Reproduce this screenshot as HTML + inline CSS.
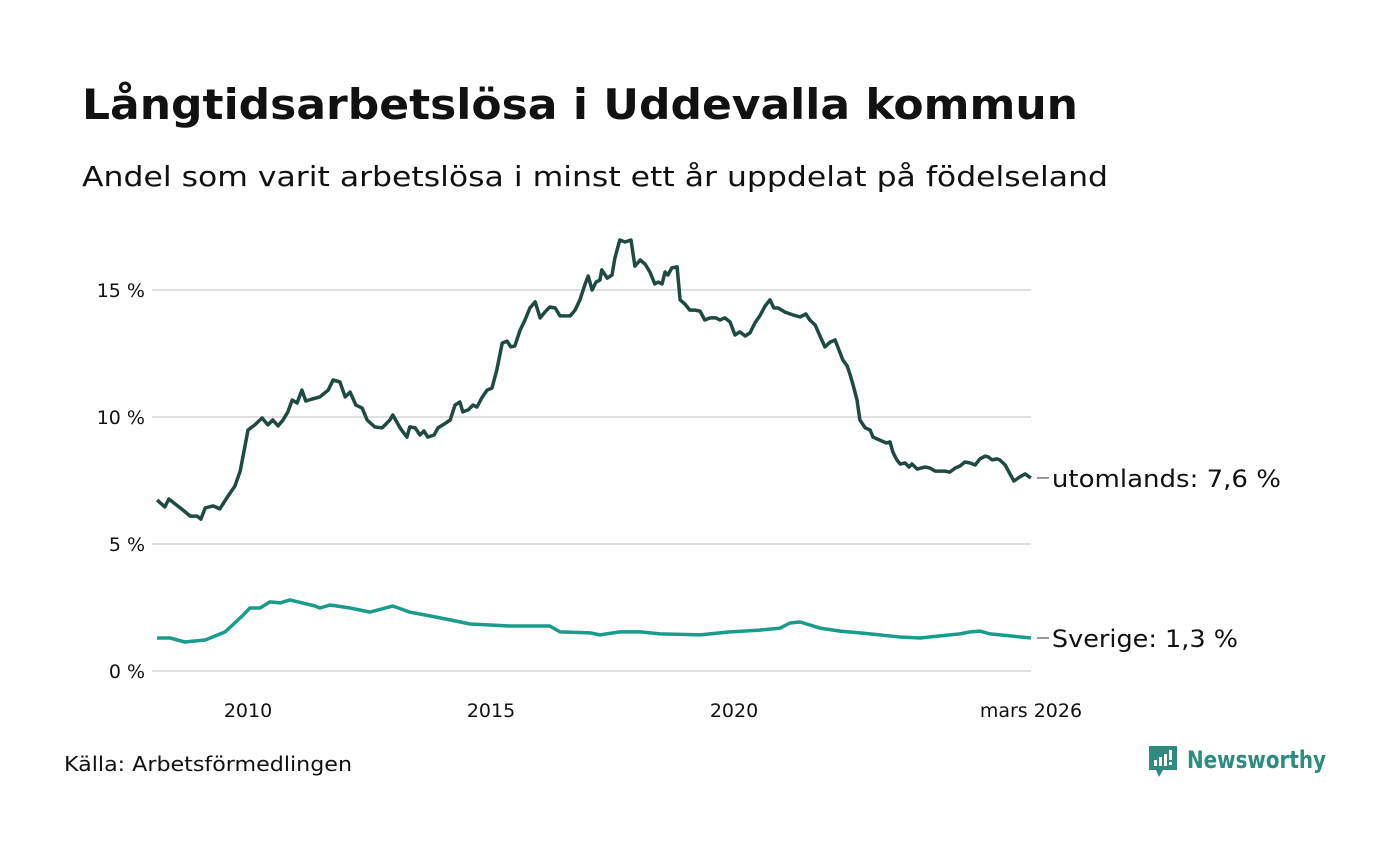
<!DOCTYPE html>
<html><head><meta charset="utf-8"><style>
body{margin:0;background:#fff;width:1400px;height:840px;overflow:hidden;font-family:"DejaVu Sans",sans-serif;}
svg text{font-family:"DejaVu Sans","Liberation Sans",sans-serif;}
</style></head><body>
<svg width="1400" height="840">
<text x="82" y="119" font-size="42" font-weight="bold" fill="#111" textLength="996" lengthAdjust="spacingAndGlyphs">Långtidsarbetslösa i Uddevalla kommun</text>
<text x="82" y="186" font-size="28" fill="#111" textLength="1026" lengthAdjust="spacingAndGlyphs">Andel som varit arbetslösa i minst ett år uppdelat på födelseland</text>
<g id="grid"></g><g id="lines"></g>
<text x="64" y="771" font-size="20" fill="#111" textLength="288" lengthAdjust="spacingAndGlyphs">Källa: Arbetsförmedlingen</text>
<g>
<path d="M1149 746h28v24h-14l-4 7-3-7h-7z" fill="#2e8b7e"/>
<rect x="1154" y="760" width="3" height="6" fill="#fff"/><rect x="1159" y="757" width="3" height="9" fill="#fff"/><rect x="1164" y="754" width="3" height="12" fill="#fff"/><rect x="1169" y="750" width="3" height="10" fill="#fff"/><rect x="1169" y="762" width="3" height="3" fill="#fff"/>
<text x="1187" y="768" font-size="24" font-weight="bold" fill="#2e8b7e" textLength="139" lengthAdjust="spacingAndGlyphs">Newsworthy</text>
</g>
</svg>
<script>
const yTicks=[0,5,10,15];
const xTicks=[2010,2015,2020];
const lastLabel="mars 2026";
const foreignYears=[2008.13,2008.29,2008.37,2008.66,2008.81,2008.95,2009.03,2009.12,2009.28,2009.42,2009.59,2009.73,2009.84,2009.90,2010.00,2010.14,2010.29,2010.41,2010.51,2010.62,2010.72,2010.82,2010.91,2011.01,2011.11,2011.19,2011.32,2011.48,2011.65,2011.75,2011.89,2012.00,2012.10,2012.22,2012.35,2012.45,2012.61,2012.76,2012.92,2012.98,2013.13,2013.19,2013.27,2013.33,2013.44,2013.54,2013.62,2013.70,2013.83,2013.91,2014.01,2014.16,2014.26,2014.36,2014.42,2014.53,2014.63,2014.71,2014.81,2014.92,2015.02,2015.12,2015.23,2015.33,2015.41,2015.49,2015.60,2015.70,2015.80,2015.91,2016.01,2016.11,2016.21,2016.32,2016.42,2016.63,2016.73,2016.83,2016.93,2017.00,2017.08,2017.16,2017.24,2017.28,2017.39,2017.49,2017.55,2017.65,2017.76,2017.88,2017.96,2018.07,2018.17,2018.27,2018.37,2018.44,2018.52,2018.58,2018.64,2018.72,2018.83,2018.89,2018.99,2019.09,2019.20,2019.30,2019.40,2019.51,2019.63,2019.71,2019.81,2019.92,2020.02,2020.12,2020.23,2020.33,2020.43,2020.53,2020.64,2020.74,2020.82,2020.91,2021.05,2021.21,2021.36,2021.48,2021.56,2021.67,2021.77,2021.87,2021.98,2022.08,2022.24,2022.33,2022.39,2022.45,2022.53,2022.59,2022.70,2022.80,2022.86,2023.00,2023.13,2023.21,2023.27,2023.35,2023.42,2023.52,2023.60,2023.66,2023.77,2023.93,2024.03,2024.14,2024.34,2024.44,2024.55,2024.65,2024.75,2024.86,2024.96,2025.06,2025.17,2025.23,2025.31,2025.41,2025.47,2025.58,2025.68,2025.76,2025.88,2025.99,2026.11];
const foreignValues=[6.73,6.46,6.77,6.34,6.10,6.10,5.98,6.42,6.50,6.38,6.89,7.28,7.87,8.46,9.49,9.69,9.96,9.69,9.88,9.65,9.88,10.20,10.67,10.55,11.06,10.63,10.71,10.79,11.06,11.46,11.38,10.79,10.98,10.47,10.35,9.88,9.61,9.57,9.88,10.08,9.57,9.41,9.21,9.61,9.57,9.29,9.45,9.21,9.29,9.57,9.69,9.88,10.47,10.59,10.20,10.28,10.47,10.39,10.75,11.06,11.14,11.85,12.91,12.99,12.76,12.80,13.43,13.82,14.29,14.53,13.90,14.13,14.33,14.29,13.98,13.98,14.21,14.61,15.20,15.55,15.00,15.31,15.39,15.79,15.47,15.59,16.26,16.97,16.89,16.97,15.94,16.18,16.02,15.71,15.24,15.31,15.24,15.71,15.59,15.87,15.91,14.61,14.45,14.21,14.21,14.17,13.82,13.90,13.90,13.82,13.90,13.74,13.23,13.35,13.19,13.31,13.70,13.98,14.37,14.61,14.29,14.29,14.13,14.02,13.94,14.06,13.82,13.62,13.19,12.76,12.95,13.03,12.24,12.01,11.65,11.26,10.67,9.88,9.57,9.49,9.21,9.09,8.98,9.02,8.62,8.31,8.15,8.19,8.03,8.15,7.95,8.03,7.99,7.87,7.87,7.83,7.99,8.07,8.23,8.19,8.11,8.35,8.46,8.43,8.31,8.35,8.31,8.11,7.76,7.48,7.64,7.76,7.6];
const swedenYears=[2008.13,2008.40,2008.70,2009.12,2009.53,2009.90,2010.04,2010.25,2010.45,2010.66,2010.86,2011.38,2011.48,2011.69,2012.10,2012.51,2012.98,2013.33,2013.74,2014.16,2014.57,2014.98,2015.39,2015.80,2016.21,2016.42,2017.04,2017.24,2017.65,2018.07,2018.48,2019.30,2019.92,2020.53,2020.95,2021.15,2021.36,2021.77,2022.18,2022.59,2023.00,2023.42,2023.83,2024.24,2024.65,2024.86,2025.06,2025.27,2025.68,2026.11];
const swedenValues=[1.30,1.30,1.14,1.22,1.54,2.20,2.48,2.48,2.72,2.68,2.80,2.56,2.48,2.60,2.48,2.32,2.56,2.32,2.17,2.01,1.85,1.81,1.77,1.77,1.77,1.54,1.50,1.42,1.54,1.54,1.46,1.42,1.54,1.61,1.69,1.89,1.93,1.69,1.57,1.50,1.42,1.34,1.30,1.38,1.46,1.54,1.57,1.46,1.38,1.30];
const X=t=>248+(t-2010)*48.6, Y=v=>671-v*25.4;
const NS="http://www.w3.org/2000/svg";
const grid=document.getElementById('grid'), lines=document.getElementById('lines');
function mk(tag,attrs,parent){const e=document.createElementNS(NS,tag);for(const k in attrs)e.setAttribute(k,attrs[k]);parent.appendChild(e);return e;}
yTicks.forEach(v=>{
 const l=mk('line',{x1:152,x2:1031,y1:Y(v),y2:Y(v),stroke:'#e0e0e0','stroke-width':2},grid);
 
 
 const t=mk('text',{x:145,y:Y(v)+7,'font-size':19,'text-anchor':'end',fill:'#111'},grid);
 t.textContent=v+' %';
 
 
});
xTicks.forEach(yr=>{
 const t=mk('text',{x:X(yr),y:717,'font-size':19,'text-anchor':'middle',fill:'#111'},grid);
 t.textContent=yr;
 
 
});
const lt=mk('text',{x:X(foreignYears[foreignYears.length-1]),y:717,'font-size':19,'text-anchor':'middle',fill:'#111'},grid);
lt.textContent=lastLabel;


function draw(ys,vs,color,name,label,w){
 const d=ys.map((t,i)=>(i?'L':'M')+X(t).toFixed(1)+' '+Y(vs[i]).toFixed(1)).join('');
 const p=mk('path',{d:d,fill:'none',stroke:color,'stroke-width':3.5,'stroke-linejoin':'round'},lines);
 
 
 const lx=X(ys[ys.length-1]), ly=Y(vs[vs.length-1]);
 mk('line',{x1:lx+6,x2:lx+18,y1:ly,y2:ly,stroke:'#333','stroke-width':1},lines);
 const t=mk('text',{x:lx+21,y:ly+9,'font-size':24,fill:'#111',textLength:w,lengthAdjust:'spacingAndGlyphs'},lines);
 t.textContent=label;
 
 
}
draw(foreignYears,foreignValues,'#1f4a42','utomlands','utomlands: 7,6 %',229);
draw(swedenYears,swedenValues,'#1a9c8c','sverige','Sverige: 1,3 %',186);
</script>
</body></html>
